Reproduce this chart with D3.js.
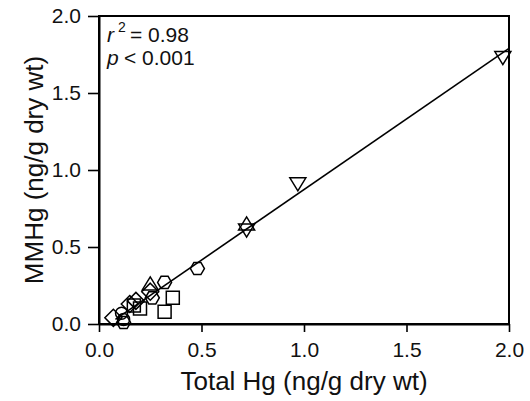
<!DOCTYPE html>
<html>
<head>
<meta charset="utf-8">
<script src="https://cdn.jsdelivr.net/npm/d3@7"></script>
<style>
  body { margin: 0; background: #fff; }
  svg { display: block; font-family: "Liberation Sans", Arial, sans-serif; }
</style>
</head>
<body>
<svg id="chart" width="530" height="401"></svg>
<script>
'use strict';

// values, one list per symbol  [total Hg, MMHg]
const downTriangles = [[1.97, 1.73], [0.97, 0.91], [0.72, 0.61]];
const upTriangles = [[0.72, 0.65], [0.25, 0.26]];
const hexagons = [[0.48, 0.36], [0.32, 0.27], [0.26, 0.17], [0.12, 0.01]];
const squares = [[0.36, 0.17], [0.32, 0.08], [0.20, 0.10], [0.17, 0.12]];
const diamonds = [[0.07, 0.04], [0.18, 0.15], [0.15, 0.13], [0.25, 0.21]];
const circles = [[0.11, 0.07], [0.12, 0.03]];

// regression line end points
const fitX = [0.08, 2.0];
const fitY = [0.03, 1.79];

const xTicks = [0, 0.5, 1.0, 1.5, 2.0];
const yTicks = [0, 0.5, 1.0, 1.5, 2.0];

const svg = d3.select('#chart');
const margin = { left: 99, right: 21, top: 16, bottom: 77 };
const W = 530 - margin.left - margin.right;
const H = 401 - margin.top - margin.bottom;

const x = d3.scaleLinear().domain([0, 2]).range([0, W]);
const y = d3.scaleLinear().domain([0, 2]).range([H, 0]);

const g = svg.append('g').attr('transform', `translate(${margin.left},${margin.top})`);

// frame (top and right sides)
g.append('rect')
  .attr('width', W).attr('height', H)
  .attr('fill', 'none').attr('stroke', '#000').attr('stroke-width', 2);

// axes
const fmt = d3.format('.1f');
const xAxis = g.append('g')
  .attr('transform', `translate(0,${H})`)
  .call(d3.axisBottom(x).tickValues(xTicks).tickFormat(fmt)
    .tickSize(8).tickSizeOuter(0).tickPadding(10));
const yAxis = g.append('g')
  .call(d3.axisLeft(y).tickValues(yTicks).tickFormat(fmt)
    .tickSize(11).tickSizeOuter(0).tickPadding(7));

[xAxis, yAxis].forEach((a) => {
  a.select('.domain').attr('stroke-width', 2);
  a.selectAll('.tick line').attr('stroke-width', 1.6);
  a.selectAll('.tick text')
    .attr('font-size', 21)
    .attr('font-family', '"Liberation Sans", Arial, sans-serif')
    .attr('fill', '#111');
});

// axis titles
svg.append('text')
  .attr('x', margin.left + W / 2).attr('y', 390)
  .attr('text-anchor', 'middle')
  .attr('font-size', 26)
  .attr('fill', '#111')
  .text('Total Hg (ng/g dry wt)');
svg.append('text')
  .attr('transform', `translate(43,${margin.top + H / 2}) rotate(-90)`)
  .attr('text-anchor', 'middle')
  .attr('font-size', 26)
  .attr('fill', '#111')
  .text('MMHg (ng/g dry wt)');

// regression line
g.append('path')
  .datum(d3.zip(fitX, fitY))
  .attr('d', d3.line().x((d) => x(d[0])).y((d) => y(d[1])))
  .attr('fill', 'none').attr('stroke', '#000').attr('stroke-width', 1.6);

// symbol paths centred on 0,0
const polygon = (pts) => 'M' + pts.map((p) => p.join(',')).join('L') + 'Z';
const shapes = {
  downTri: () => polygon([[-8, -6], [8, -6], [0, 7]]),
  upTri: () => polygon([[-8, 6], [8, 6], [0, -7]]),
  hex: () => polygon(d3.range(6).map((k) => [7 * Math.cos(k * Math.PI / 3), 7 * Math.sin(k * Math.PI / 3)])),
  square: () => polygon([[-6.5, -6.5], [6.5, -6.5], [6.5, 6.5], [-6.5, 6.5]]),
  diamond: () => polygon([[0, -8.5], [8.5, 0], [0, 8.5], [-8.5, 0]]),
  circle: () => d3.arc().innerRadius(0).outerRadius(6).startAngle(0).endAngle(2 * Math.PI)(),
};

const series = [
  [circles, 'circle'],
  [diamonds, 'diamond'],
  [squares, 'square'],
  [hexagons, 'hex'],
  [upTriangles, 'upTri'],
  [downTriangles, 'downTri'],
];

series.forEach(([pts, shape]) => {
  g.append('g')
    .selectAll('path')
    .data(pts)
    .join('path')
    .attr('transform', (d) => `translate(${x(d[0])},${y(d[1])})`)
    .attr('d', shapes[shape]())
    .attr('fill', 'none')
    .attr('stroke', '#000')
    .attr('stroke-width', 1.5);
});

// statistics text, separate pieces so r, the superscript and the value sit side by side
const stat = svg.append('g').attr('font-size', 21).attr('fill', '#111');
stat.append('text').attr('x', 107).attr('y', 42).attr('font-style', 'italic').text('r');
stat.append('text').attr('x', 118).attr('y', 32).attr('font-size', 14).text('2');
stat.append('text').attr('x', 130).attr('y', 42).text('= 0.98');
stat.append('text').attr('x', 107).attr('y', 65).attr('font-style', 'italic').text('p');
stat.append('text').attr('x', 124).attr('y', 65).text('< 0.001');
</script>
</body>
</html>
